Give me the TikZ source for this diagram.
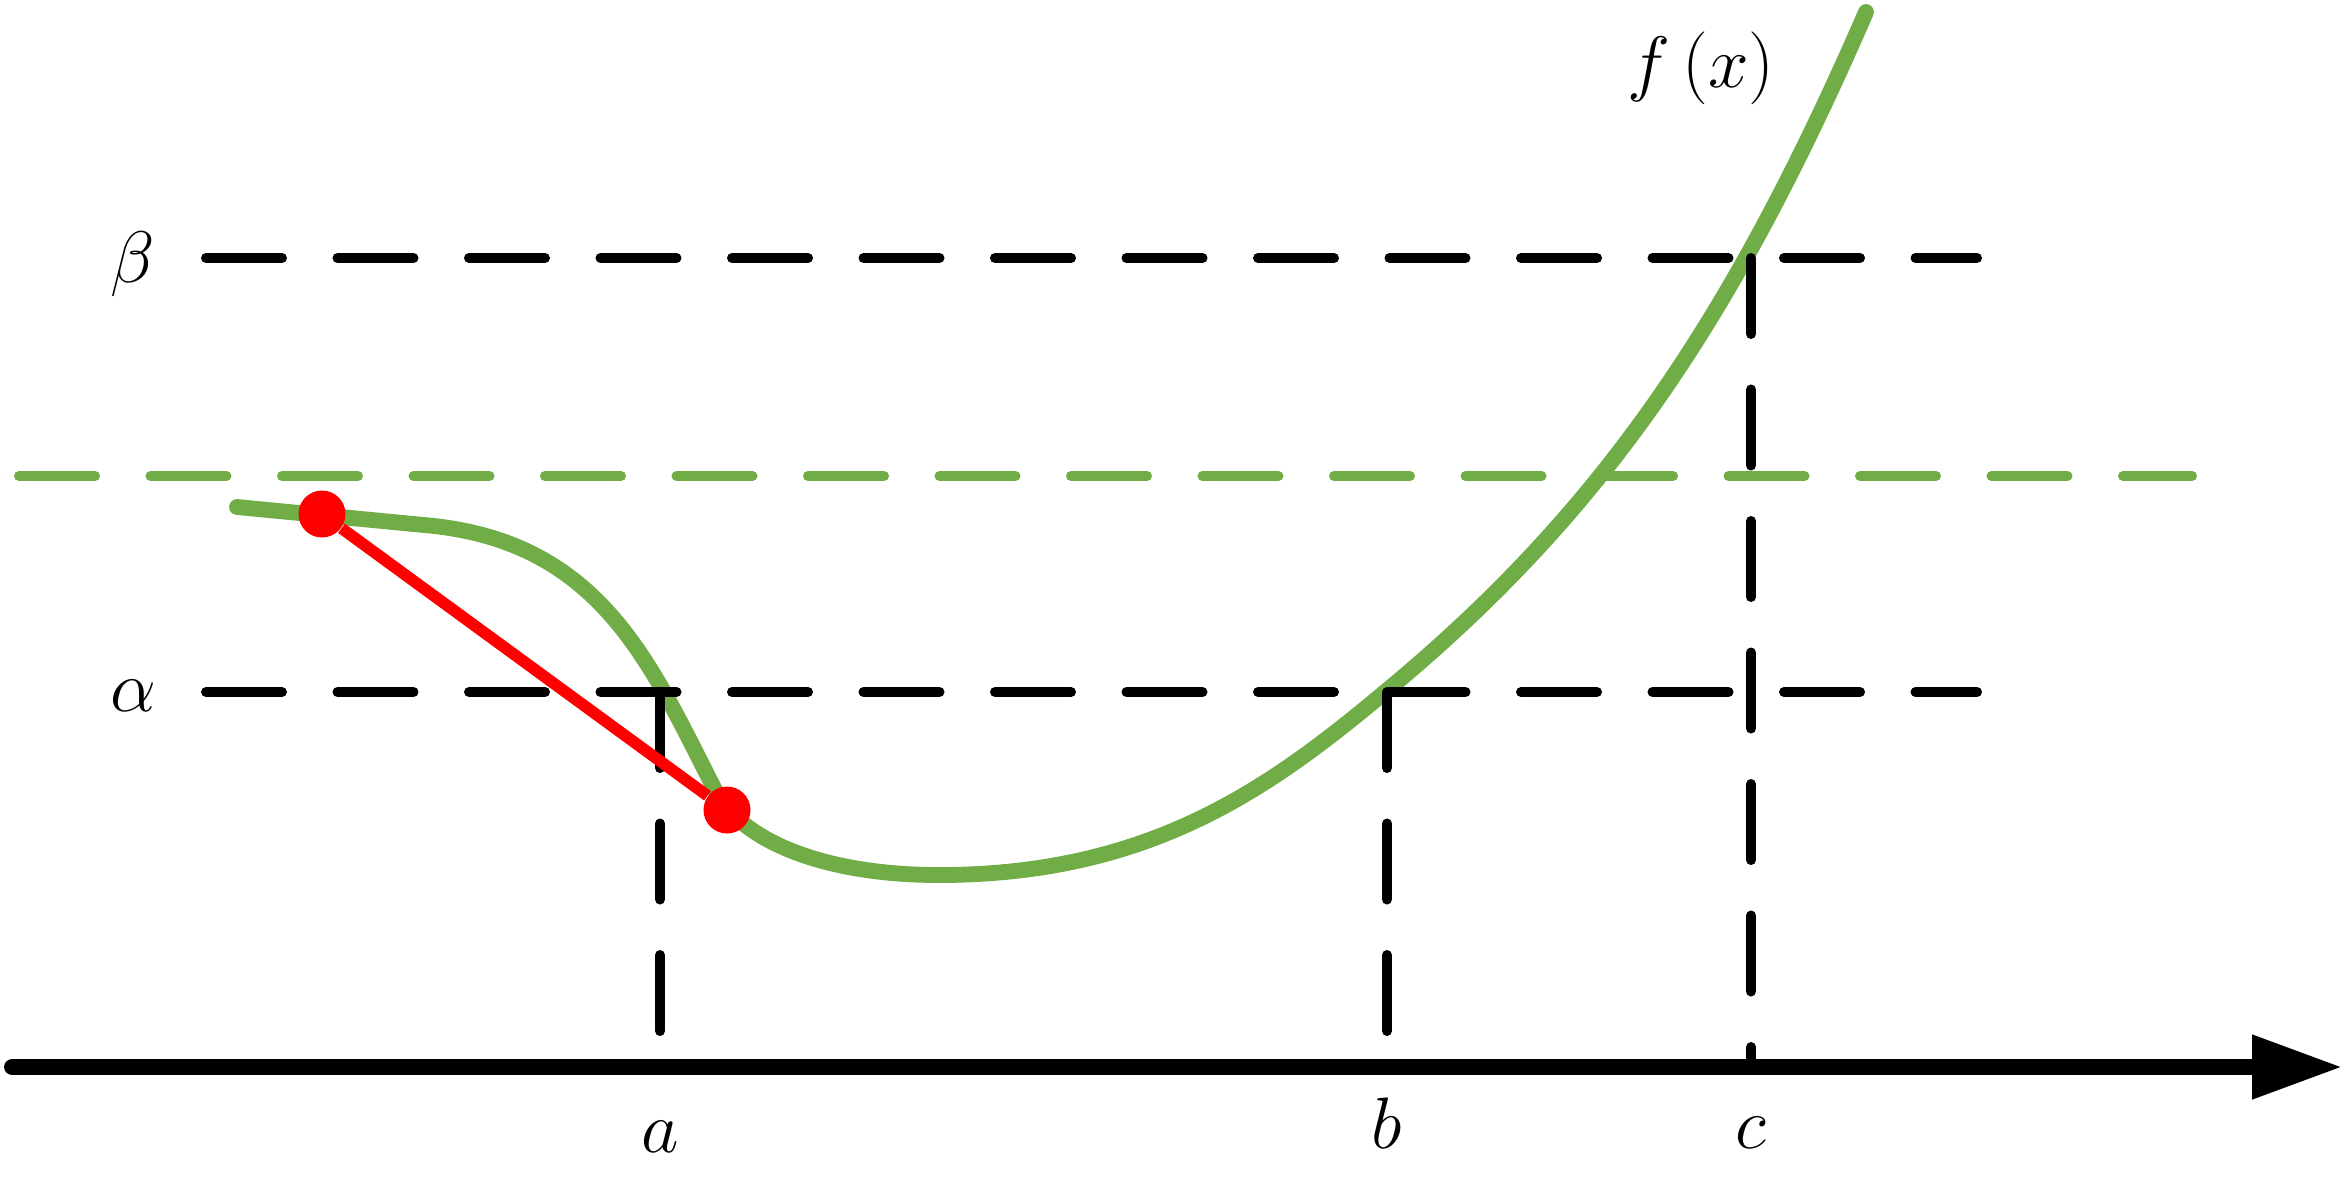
\documentclass[tikz,border=0pt]{standalone}
\usetikzlibrary{arrows.meta}
\definecolor{fgreen}{HTML}{70AD47}
\begin{document}
\begin{tikzpicture}[>={Triangle[length=0.91cm,width=0.6cm]}]
\tikzset{
  level/.style={line width=2.85pt,line cap=round,dash pattern=on 0.76cm off 0.555cm},
  guide/.style={level,draw=fgreen},
  curve/.style={draw=fgreen,line width=4.5pt,line cap=round,line join=round},
  axis/.style={line width=4.8pt,line cap=round,->},
  chord/.style={draw=red,line width=3.3pt},
  dot/.style={circle,fill=red,inner sep=0pt,minimum size=0.47cm},
  lbl/.style={font=\huge,inner sep=0pt,anchor=base}
}
\useasboundingbox (0,0) rectangle (23.48,11.85);
\node[lbl] (beta) at (1.33,9.03) {$\beta$};
\node[lbl] (alpha) at (1.33,4.74) {$\alpha$};
\node[lbl] (a) at (6.60,0.33) {$a$};
\node[lbl] (b) at (13.87,0.37) {$b$};
\node[lbl] (c) at (17.51,0.37) {$c$};
\node[lbl] (fx) at (17.01,10.98) {$f\left(x\right)$};
\coordinate (b1) at (2.06,9.27);
\coordinate (b2) at (19.77,9.27);
\coordinate (a1) at (2.06,4.93);
\coordinate (a2) at (19.77,4.93);
\coordinate (g1) at (0.19,7.09);
\coordinate (g2) at (21.92,7.09);
\coordinate (o) at (0.125,1.18);
\coordinate (xend) at (23.43,1.18);
\coordinate (pa) at (6.60,4.93);
\coordinate (qa) at (6.60,1.18);
\coordinate (pb) at (13.87,4.93);
\coordinate (qb) at (13.87,1.18);
\coordinate (pc) at (17.51,9.27);
\coordinate (qc) at (17.51,1.18);
\draw[curve] (2.37,6.78) -- (4.24,6.60)
  .. controls (6.0,6.45) and (6.5,5.22) .. (7.15,3.95)
  .. controls (7.40,3.46) and (8.2,3.10) .. (9.39,3.10)
  .. controls (11.5,3.10) and (12.7,3.97) .. (13.85,4.93)
  .. controls (16.0,6.71) and (17.3,8.6) .. (18.66,11.73);
\draw[guide] (g1) -- (g2);
\draw[level] (b1) -- (b2);
\draw[level] (a1) -- (a2);
\draw[level] (pa) -- (qa);
\draw[level] (pb) -- (qb);
\draw[level] (pc) -- (qc);
\draw[axis] (o) -- (xend);
\node[dot] (p) at (3.22,6.71) {};
\node[dot] (q) at (7.27,3.75) {};
\draw[chord] (p) -- (q);
\end{tikzpicture}
\end{document}
